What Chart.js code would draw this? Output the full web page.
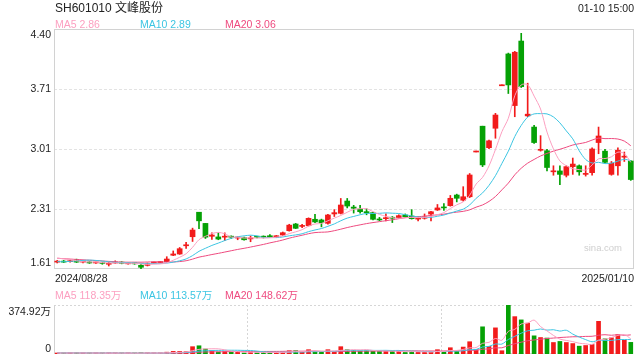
<!DOCTYPE html>
<html><head><meta charset="utf-8">
<script src="https://cdn.jsdelivr.net/npm/chart.js@4.4.1/dist/chart.umd.min.js"></script>
<style>
html,body{margin:0;padding:0;background:#fff;}
#wrap{position:relative;width:640px;height:360px;overflow:hidden;font-family:"Liberation Sans",Arial,"Noto Sans CJK SC",sans-serif;}
canvas{position:absolute;left:0;top:0;}
.t{position:absolute;white-space:nowrap;line-height:1;}
</style></head><body>
<div id="wrap">
<canvas id="k" width="640" height="360"></canvas>
<canvas id="v" width="640" height="360"></canvas>
<div class="t" style="left:55px;top:1.5px;font-size:12px;color:#222">SH601010 文峰股份</div>
<div class="t" style="right:6px;top:2.8px;font-size:10.5px;color:#222">01-10 15:00</div>
<div class="t" id="m5" style="left:55px;top:18.8px;font-size:10.5px"></div>
<div class="t" id="m10" style="left:140px;top:18.8px;font-size:10.5px"></div>
<div class="t" id="m20" style="left:225px;top:18.8px;font-size:10.5px"></div>
<div class="t" id="d0" style="left:55px;top:272.8px;font-size:10.5px;color:#222"></div>
<div class="t" id="d1" style="right:6px;top:272.8px;font-size:10.5px;color:#222"></div>
<div class="t" id="v5" style="left:55px;top:289.8px;font-size:10.5px"></div>
<div class="t" id="v10" style="left:140px;top:289.8px;font-size:10.5px"></div>
<div class="t" id="v20" style="left:225px;top:289.8px;font-size:10.5px"></div>
<div class="t" style="left:584px;top:243px;font-size:9.5px;color:#cfcfcf">sina.com</div>
</div>
<script>
// ---------- data ----------
const dates = [
'2024/08/28','2024/08/29','2024/08/30',
'2024/09/02','2024/09/03','2024/09/04','2024/09/05','2024/09/06',
'2024/09/09','2024/09/10','2024/09/11','2024/09/12','2024/09/13',
'2024/09/18','2024/09/19','2024/09/20',
'2024/09/23','2024/09/24','2024/09/25','2024/09/26','2024/09/27','2024/09/30',
'2024/10/08','2024/10/09','2024/10/10','2024/10/11',
'2024/10/14','2024/10/15','2024/10/16','2024/10/17','2024/10/18',
'2024/10/21','2024/10/22','2024/10/23','2024/10/24','2024/10/25',
'2024/10/28','2024/10/29','2024/10/30','2024/10/31',
'2024/11/01','2024/11/04','2024/11/05','2024/11/06','2024/11/07','2024/11/08',
'2024/11/11','2024/11/12','2024/11/13','2024/11/14','2024/11/15',
'2024/11/18','2024/11/19','2024/11/20','2024/11/21','2024/11/22',
'2024/11/25','2024/11/26','2024/11/27','2024/11/28','2024/11/29',
'2024/12/02','2024/12/03','2024/12/04','2024/12/05','2024/12/06',
'2024/12/09','2024/12/10','2024/12/11','2024/12/12','2024/12/13',
'2024/12/16','2024/12/17','2024/12/18','2024/12/19','2024/12/20',
'2024/12/23','2024/12/24','2024/12/25','2024/12/26','2024/12/27',
'2024/12/30','2024/12/31',
'2025/01/02','2025/01/03','2025/01/06','2025/01/07','2025/01/08','2025/01/09','2025/01/10'];

const open = [1.69,1.70,1.695,1.715,1.69,1.69,1.68,1.685,1.665,1.68,
1.69,1.67,1.675,1.653,1.652,1.68,1.685,1.695,1.77,1.784,
1.88,1.985,2.27,2.14,1.99,1.983,1.98,1.985,1.97,1.974,
1.96,1.985,1.985,1.99,1.985,2.005,2.055,2.133,2.105,2.113,
2.188,2.18,2.141,2.25,2.257,2.40,2.33,2.307,2.27,2.265,
2.19,2.195,2.205,2.206,2.238,2.226,2.19,2.20,2.249,2.296,
2.325,2.346,2.47,2.41,2.45,2.97,3.27,3.02,3.246,3.74,
4.11,3.51,4.26,3.39,3.26,2.99,2.985,2.74,2.75,2.70,
2.80,2.81,2.71,2.73,3.08,2.98,2.71,2.81,2.91,2.865];
const high = [1.71,1.71,1.72,1.725,1.70,1.695,1.69,1.69,1.69,1.705,
1.695,1.685,1.68,1.665,1.68,1.69,1.695,1.753,1.82,1.86,
1.92,2.085,2.27,2.14,2.03,2.03,2.03,1.995,1.985,1.98,
1.994,1.99,1.995,2.01,2.00,2.04,2.13,2.14,2.13,2.205,
2.245,2.19,2.245,2.30,2.43,2.43,2.35,2.35,2.31,2.27,
2.21,2.25,2.22,2.24,2.25,2.30,2.22,2.25,2.28,2.36,
2.37,2.465,2.48,2.567,2.72,2.97,3.27,3.11,3.42,3.74,
4.12,4.14,4.35,3.77,3.28,3.16,3.00,2.81,2.81,2.81,
2.90,2.82,2.81,3.02,3.26,3.00,2.86,3.02,2.97,2.87];
const low = [1.68,1.685,1.69,1.685,1.68,1.675,1.675,1.665,1.645,1.675,
1.67,1.665,1.665,1.615,1.645,1.675,1.68,1.69,1.765,1.78,
1.85,1.93,2.08,1.965,1.955,1.95,1.94,1.965,1.95,1.945,
1.927,1.97,1.97,1.975,1.975,2.00,2.05,2.08,2.09,2.11,
2.15,2.10,2.13,2.22,2.25,2.32,2.26,2.26,2.24,2.18,
2.17,2.17,2.15,2.20,2.21,2.19,2.17,2.19,2.17,2.29,
2.29,2.34,2.39,2.40,2.44,2.97,2.80,3.01,3.13,3.74,
3.65,3.38,3.72,3.38,3.07,2.98,2.75,2.70,2.59,2.68,
2.71,2.70,2.69,2.70,2.95,2.84,2.70,2.70,2.86,2.64];
const close = [1.695,1.69,1.705,1.69,1.692,1.68,1.685,1.675,1.67,1.69,
1.675,1.675,1.67,1.63,1.672,1.685,1.69,1.726,1.785,1.846,
1.89,2.063,2.17,1.98,2.005,1.958,1.985,1.98,1.975,1.95,
1.966,1.98,1.98,1.985,1.99,2.032,2.12,2.083,2.11,2.199,
2.157,2.148,2.238,2.265,2.354,2.342,2.316,2.276,2.265,2.188,
2.18,2.20,2.20,2.23,2.218,2.195,2.195,2.218,2.276,2.32,
2.32,2.432,2.432,2.45,2.703,2.97,2.82,3.10,3.40,3.74,
3.75,4.13,3.73,3.41,3.08,3.00,2.79,2.75,2.71,2.80,
2.83,2.74,2.72,3.005,3.156,2.85,2.84,2.99,2.92,2.65];
// volume in 万手
const volume = [7,6,8,9,6,5,6,6,7,6,
6,5,5,9,8,6,6,14,20,20,
18,56,63,38,25,15,18,15,18,8,
12,10,12,12,12,15,25,25,15,33,
20,15,33,15,56,33,28,25,25,25,
20,20,20,20,12,20,15,15,15,33,
20,48,20,53,94,33,208,58,200,25,
374.92,286,261,236,139,126,122,88,96,88,
80,60,65,73,250,116,124,148,105,89];
// closes / volumes of the 19 sessions before the window (for the moving averages at the left edge)
const priorClose = [1.80,1.79,1.78,1.78,1.77,1.77,1.76,1.77,1.77,1.76,1.70,1.66,1.64,1.63,1.65,1.72,1.75,1.76,1.75];
const priorVolume = [8,7,9,8,7,8,9,10,8,7,9,8,7,8,9,8,7,8,7];

const priceTicks = [1.61, 2.3075, 3.005, 3.7025, 4.40];
const priceTickLabels = ['1.61','2.31','3.01','3.71','4.40'];
const volTicks = [0, 374.92];
const volTickLabels = ['0','374.92万'];
const maLegend = ['MA5 2.86','MA10 2.89','MA20 3.06'];
const volLegend = ['MA5 118.35万','MA10 113.57万','MA20 148.62万'];

// ---------- styles ----------
const UP = '#f21b1b', DOWN = '#05a105';
const C5 = '#fc9fc0', C10 = '#3cc5e2', C20 = '#ee4a7f';
const FONT = '10.5px "Liberation Sans", Arial, "Noto Sans CJK SC", sans-serif';

function movingAvg(prior, vals, n){
  const all = prior.concat(vals);
  return vals.map((_, i) => {
    const j = i + prior.length; let s = 0;
    for (let k = j - n + 1; k <= j; k++) s += all[k];
    return s / n;
  });
}

const colors = close.map((c, i) => c >= open[i] ? UP : DOWN);
const bodies = open.map((o, i) => [Math.min(o, close[i]), Math.max(o, close[i])]);
const wicks = low.map((l, i) => [l, high[i]]);

[['m5',maLegend[0],C5],['m10',maLegend[1],C10],['m20',maLegend[2],C20],
 ['v5',volLegend[0],C5],['v10',volLegend[1],C10],['v20',volLegend[2],C20]].forEach(([id,t,c])=>{
  const el=document.getElementById(id); el.textContent=t; el.style.color=c; });
document.getElementById('d0').textContent = dates[0];
document.getElementById('d1').textContent = dates[dates.length-1];

function hline(ctx, x0, x1, y){ ctx.beginPath(); ctx.moveTo(x0, y); ctx.lineTo(x1, y); ctx.stroke(); }
function vline(ctx, x, y0, y1){ ctx.beginPath(); ctx.moveTo(x, y0); ctx.lineTo(x, y1); ctx.stroke(); }

const kPanel = {
  id: 'kPanel',
  beforeDatasetsDraw(chart){
    const {ctx, chartArea: a, scales: {y}} = chart;
    ctx.save();
    ctx.lineWidth = 1;
    ctx.strokeStyle = '#e3e3e3'; ctx.setLineDash([3, 2]);
    priceTicks.forEach((v, i) => {
      if (i === 0 || i === priceTicks.length - 1) return;
      hline(ctx, a.left, a.right, Math.round(y.getPixelForValue(v)) + 0.5);
    });
    ctx.setLineDash([]);
    ctx.strokeStyle = '#d2d2d2';
    ctx.strokeRect(Math.round(a.left) + 0.5, Math.round(a.top) + 0.5, Math.round(a.right - a.left) - 1, Math.round(a.bottom - a.top) - 1);
    ctx.restore();
  },
  afterDraw(chart){
    const {ctx, chartArea: a, scales: {y}} = chart;
    ctx.save();
    ctx.font = FONT; ctx.fillStyle = '#222'; ctx.textAlign = 'right'; ctx.textBaseline = 'middle';
    priceTicks.forEach((v, i) => {
      const py = Math.min(Math.max(y.getPixelForValue(v), a.top + 6), a.bottom - 6);
      ctx.fillText(priceTickLabels[i], a.left - 3, py);
    });
    ctx.restore();
  }
};

const vPanel = {
  id: 'vPanel',
  beforeDatasetsDraw(chart){
    const {ctx, chartArea: a, scales: {x}} = chart;
    ctx.save();
    ctx.lineWidth = 1;
    ctx.strokeStyle = '#d6d6d6'; ctx.setLineDash([2, 2]);
    hline(ctx, a.left, a.right, Math.round(a.top) + 0.5);
    hline(ctx, a.left, a.right, Math.round(a.bottom) - 0.5);
    const step = x.getPixelForValue(1) - x.getPixelForValue(0);
    [30, 60].forEach(k => vline(ctx, Math.round(x.getPixelForValue(k) - step / 2) + 0.5, a.top, a.bottom));
    ctx.setLineDash([]);
    ctx.strokeStyle = '#d2d2d2';
    vline(ctx, Math.round(a.left) + 0.5, a.top, a.bottom);
    ctx.restore();
  },
  afterDraw(chart){
    const {ctx, chartArea: a, scales: {y}} = chart;
    ctx.save();
    ctx.font = FONT; ctx.fillStyle = '#222'; ctx.textAlign = 'right'; ctx.textBaseline = 'middle';
    volTicks.forEach((v, i) => {
      const py = Math.min(Math.max(y.getPixelForValue(v), a.top + 7), a.bottom - 5);
      ctx.fillText(volTickLabels[i], a.left - 3, py);
    });
    ctx.restore();
  }
};

function maSet(label, data, color){
  return {type: 'line', label, data, borderColor: color, borderWidth: 1, pointRadius: 0, tension: 0.3, fill: false, order: 0};
}

const common = {
  responsive: false, animation: false, events: [],
  plugins: {legend: {display: false}, tooltip: {enabled: false}}
};

new Chart(document.getElementById('k'), {
  type: 'bar',
  data: {labels: dates, datasets: [
    maSet('MA5', movingAvg(priorClose, close, 5), C5),
    maSet('MA10', movingAvg(priorClose, close, 10), C10),
    maSet('MA20', movingAvg(priorClose, close, 20), C20),
    {label: 'body', data: bodies, backgroundColor: colors, grouped: false, barThickness: 5, minBarLength: 1, order: 1},
    {label: 'wick', data: wicks, backgroundColor: colors, grouped: false, barThickness: 1, minBarLength: 1, order: 2}
  ]},
  options: Object.assign({}, common, {
    layout: {padding: {left: 54, top: 29, right: 6, bottom: 91}},
    scales: {x: {display: false, offset: true}, y: {display: false, min: priceTicks[0], max: priceTicks[priceTicks.length - 1]}}
  }),
  plugins: [kPanel]
});

new Chart(document.getElementById('v'), {
  type: 'bar',
  data: {labels: dates, datasets: [
    maSet('MA5', movingAvg(priorVolume, volume, 5), C5),
    maSet('MA10', movingAvg(priorVolume, volume, 10), C10),
    maSet('MA20', movingAvg(priorVolume, volume, 20), C20),
    {label: 'vol', data: volume, backgroundColor: colors, barThickness: 4, minBarLength: 1, order: 1}
  ]},
  options: Object.assign({}, common, {
    layout: {padding: {left: 54, top: 305, right: 6, bottom: 6}},
    scales: {x: {display: false, offset: true}, y: {display: false, min: volTicks[0], max: volTicks[1]}}
  }),
  plugins: [vPanel]
});
</script>
</body></html>
